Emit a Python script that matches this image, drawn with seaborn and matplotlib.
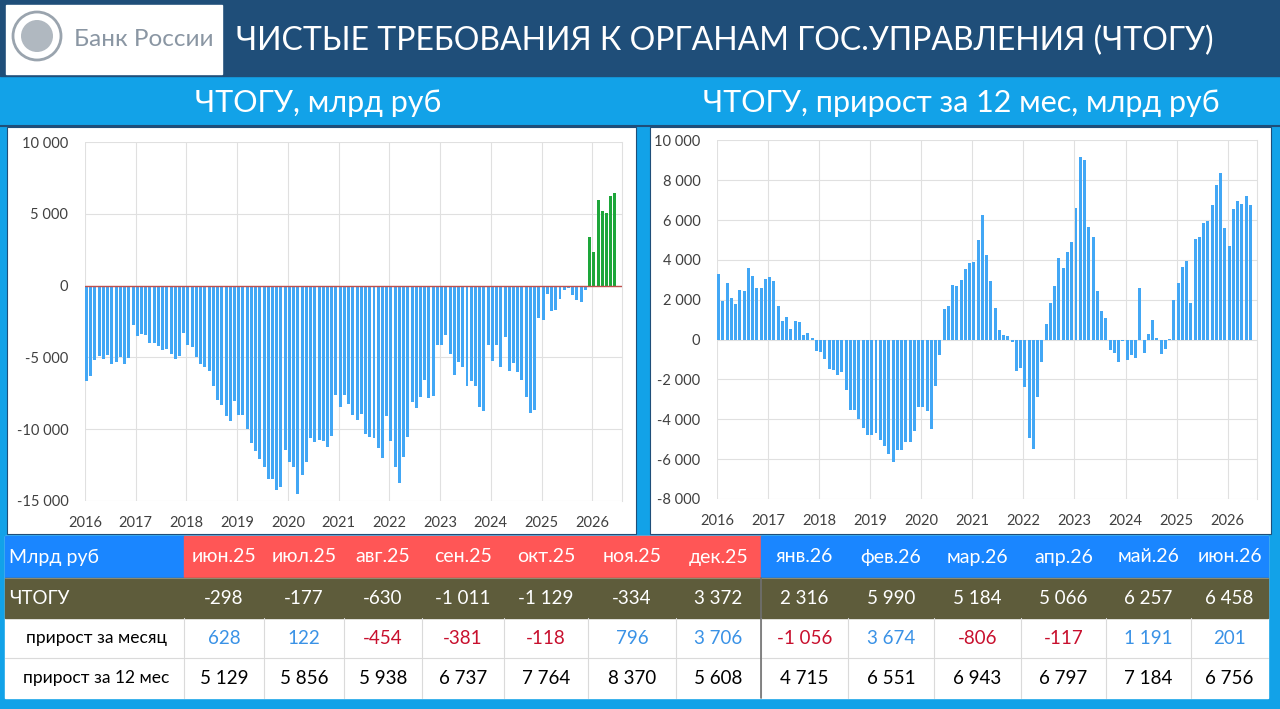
import numpy as np
import pandas as pd
import matplotlib
matplotlib.use("Agg")
import matplotlib.pyplot as plt
import seaborn as sns
from matplotlib.patches import Rectangle, Circle
from matplotlib.ticker import FuncFormatter

# ЧТОГУ, млрд руб, помесячно: янв.2016 - июн.2026
chtogu = [
    -6680, -6270, -5190, -4940, -5120, -4820, -5430, -5330, -4980, -5430, -5050, -2720,
    -3520, -3380, -3470, -4000, -3980, -4190, -4470, -4400, -4770, -5100, -4940, -3300,
    -4120, -4310, -4980, -5470, -5700, -5920, -7030, -7970, -8310, -9080, -9430, -8080,
    -9010, -9010, -9990, -10950, -11530, -12090, -12620, -13510, -13510, -14250, -14020, -11460,
    -12320, -12670, -14560, -13230, -12320, -10600, -10880, -10760, -10830, -11230, -10460, -7616,
    -8431, -7616, -8268, -9013, -9363, -8967, -10364, -10527, -10644, -11342, -12041, -9060,
    -10830, -12623, -13788, -11924, -10527, -8128, -8501, -7732, -6568, -7802, -7662, -4122,
    -4169, -3470, -4774, -6218, -5333, -5683, -7034, -6638, -7034, -8431, -8734, -4169,
    -5240, -4169, -5706, -3563, -5985, -5427, -6033, -6568, -7748, -8893, -8704, -2236,
    -2399, -561, -1759, -1731, -927, -298, -177, -630, -1011, -1129, -334, 3372,
    2316, 5990, 5184, 5066, 6257, 6458,
]

# ЧТОГУ, прирост за 12 мес, млрд руб
chtogu_12m = [
    3308, 1955, 2857, 2105, 1771, 2507, 2423, 3610, 3208, 2573, 2573, 3058,
    3141, 2924, 1671, 936, 1136, 551, 936, 869, 217, 334, 67, -568,
    -635, -986, -1454, -1521, -1771, -1638, -2507, -3526, -3526, -3977, -4445, -4779,
    -4779, -4679, -5046, -5347, -5748, -6149, -5548, -5548, -5163, -5130, -4578, -3375,
    -3359, -3609, -4478, -2306, -769, 1521, 1688, 2740, 2674, 3008, 3559, 3843,
    3910, 4980, 6250, 4228, 2958, 1571, 485, 217, 167, -117, -1587, -1404,
    -2390, -4946, -5481, -2891, -1136, 785, 1855, 2707, 4111, 3576, 4395, 4913,
    6600, 9157, 9007, 5665, 5147, 2456, 1454, 1103, -535, -652, -1103, -84,
    -1036, -769, -919, 2590, -668, 267, 1003, 84, -702, -451, 50, 1972,
    2841, 3626, 3944, 1838, 5063, 5129, 5856, 5938, 6737, 7764, 8370, 5608,
    4715, 6551, 6943, 6797, 7184, 6756,
]

table_months = ['июн.25', 'июл.25', 'авг.25', 'сен.25', 'окт.25', 'ноя.25', 'дек.25',
                'янв.26', 'фев.26', 'мар.26', 'апр.26', 'май.26', 'июн.26']
table_chtogu = [-298, -177, -630, -1011, -1129, -334, 3372, 2316, 5990, 5184, 5066, 6257, 6458]
table_mom = [628, 122, -454, -381, -118, 796, 3706, -1056, 3674, -806, -117, 1191, 201]
table_yoy = [5129, 5856, 5938, 6737, 7764, 8370, 5608, 4715, 6551, 6943, 6797, 7184, 6756]
row_names = ['ЧТОГУ', 'прирост за месяц', 'прирост за 12 мес']

NAVY = '#1F4E79'
SKY = '#12A2E8'
BAR = '#42A7F5'
GREEN = '#1DA63A'
GRID = '#E0E0E0'
TXT = '#404040'

sns.set_theme(style="white")
plt.rcParams['font.family'] = ['Lato', 'DejaVu Sans']

W, H = 1280, 709
fig = plt.figure(figsize=(W / 100, H / 100), dpi=100)
fig.patch.set_facecolor(SKY)


def box(x0, y0, x1, y1):
    return [x0 / W, 1 - y1 / H, (x1 - x0) / W, (y1 - y0) / H]


def fmt(v, pos=None):
    s = f"{abs(int(round(v))):,}".replace(",", " ")
    return ("-" if v < 0 else "") + s


bg = fig.add_axes([0, 0, 1, 1])
bg.set_xlim(0, W)
bg.set_ylim(H, 0)
bg.axis('off')

# шапка
bg.add_patch(Rectangle((0, 0), W, 76, color=NAVY))
bg.add_patch(Rectangle((6, 5), 216, 69, color='white'))
bg.add_patch(Circle((37, 36), 24, facecolor='none', edgecolor='#9AA4AE', lw=2))
bg.add_patch(Circle((37, 36), 16, facecolor='#B0B8C0', edgecolor='none'))
bg.text(74, 39, 'Банк России', color='#8A96A3', fontsize=17.5, va='center', ha='left')
bg.text(725, 41, 'ЧИСТЫЕ ТРЕБОВАНИЯ К ОРГАНАМ ГОС.УПРАВЛЕНИЯ (ЧТОГУ)',
        color='white', fontsize=23, va='center', ha='center')
bg.text(318, 103, 'ЧТОГУ, млрд руб', color='white', fontsize=22, va='center', ha='center')
bg.text(961, 103, 'ЧТОГУ, прирост за 12 мес, млрд руб', color='white', fontsize=22,
        va='center', ha='center')
bg.plot([0, W], [126, 126], color=NAVY, lw=1.5)

# панели графиков
bg.add_patch(Rectangle((7, 127), 629, 407, facecolor='white', edgecolor=NAVY, lw=0.8))
bg.add_patch(Rectangle((650, 127), 621, 407, facecolor='white', edgecolor=NAVY, lw=0.8))

# таблица
col_edges = [5, 184, 264, 344, 422, 504, 588, 676, 761, 848, 934, 1021, 1106, 1191, 1268]
row_edges = [536, 578, 618, 658, 698]
bg.add_patch(Rectangle((5, 536), 1263, 162, color='white'))
bg.add_patch(Rectangle((5, 536), 179, 42, color='#1A86FF'))
for i in range(len(table_months)):
    x0, x1 = col_edges[i + 1], col_edges[i + 2]
    c = '#FF5656' if i < 7 else '#1A86FF'
    bg.add_patch(Rectangle((x0, 536), x1 - x0, 42, color=c))
    bg.text((x0 + x1) / 2, 557, table_months[i], color='white', fontsize=14,
            ha='center', va='center')
bg.add_patch(Rectangle((5, 578), 1263, 40, color='#5E5C3B'))
bg.text(9, 557, 'Млрд руб', color='white', fontsize=14, ha='left', va='center')
bg.text(9, 598, row_names[0], color='white', fontsize=13.5, ha='left', va='center')
for j, name in enumerate(row_names[1:]):
    yc = (row_edges[j + 2] + row_edges[j + 3]) / 2
    bg.text(96, yc, name, color='black', fontsize=12.5, ha='center', va='center')
for x in col_edges[1:-1]:
    bg.plot([x, x], [618, 698], color='#DADADA', lw=0.8)
bg.plot([5, 1268], [658, 658], color='#DADADA', lw=0.8)
bg.plot([5, 1268], [578, 578], color='#8E8C70', lw=0.8)
bg.plot([761, 761], [578, 698], color='#707070', lw=1.2)
for i in range(len(table_months)):
    xc = (col_edges[i + 1] + col_edges[i + 2]) / 2
    bg.text(xc, 598, fmt(table_chtogu[i]), color='white', fontsize=13.5, ha='center', va='center')
    mc = '#3A92E6' if table_mom[i] > 0 else '#C8102E'
    bg.text(xc, 638, fmt(table_mom[i]), color=mc, fontsize=13.5, ha='center', va='center')
    bg.text(xc, 678, fmt(table_yoy[i]), color='black', fontsize=13.5, ha='center', va='center')

# графики
dates = pd.date_range('2016-01-01', periods=len(chtogu), freq='MS')
xpos = np.round(dates.year + (dates.month - 1) / 12 + 0.03, 4)
df = pd.DataFrame({'x': xpos, 'level': chtogu, 'yoy': chtogu_12m})
df['sign'] = np.where(df['level'] > 0, 'pos', 'neg')

ax1 = fig.add_axes(box(85, 142.3, 621.7, 500.7))
ax2 = fig.add_axes(box(717, 140.3, 1257.3, 499))

sns.barplot(data=df, x='x', y='level', hue='sign', palette={'neg': BAR, 'pos': GREEN},
            native_scale=True, width=0.7, errorbar=None, legend=False,
            saturation=1, linewidth=0, ax=ax1)
sns.barplot(data=df, x='x', y='yoy', color=BAR, native_scale=True, width=0.7,
            errorbar=None, saturation=1, linewidth=0, ax=ax2)

ax1.set_ylim(-15000, 10000)
ax1.set_yticks(range(-15000, 10001, 5000))
ax2.set_ylim(-8000, 10000)
ax2.set_yticks(range(-8000, 10001, 2000))
ax1.axhline(0, color='#C0504D', lw=1, zorder=3)

for ax in (ax1, ax2):
    ax.set_xlim(2016, 2026.58)
    ax.set_xticks(range(2016, 2027))
    ax.set_xticklabels([str(y) for y in range(2016, 2027)])
    ax.yaxis.set_major_formatter(FuncFormatter(fmt))
    ax.grid(True, color=GRID, lw=0.8)
    ax.set_axisbelow(True)
    ax.set_xlabel('')
    ax.set_ylabel('')
    for side in ('left', 'top', 'bottom'):
        ax.spines[side].set_visible(False)
    ax.spines['right'].set_color(GRID)
    ax.spines['right'].set_linewidth(0.8)
    ax.tick_params(axis='both', length=0, labelsize=10.5, colors=TXT)
    ax.tick_params(axis='y', pad=12)
    ax.tick_params(axis='x', pad=11)

fig.savefig('out.png', dpi=100, facecolor=fig.get_facecolor())
